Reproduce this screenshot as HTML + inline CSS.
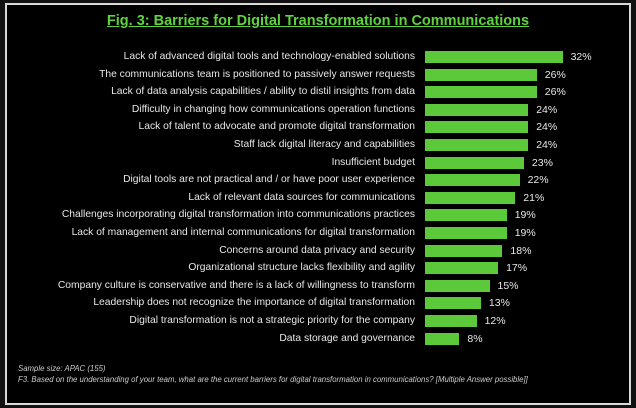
<!DOCTYPE html><html><head><style>
body{margin:0;width:636px;height:408px;background:#111;position:relative;overflow:hidden;font-family:"Liberation Sans",sans-serif}
#f{position:absolute;left:5px;top:3px;width:622px;height:398px;border:2px solid #d8d8d8;background:#000}
.t{position:absolute;left:0;width:636px;top:13px;text-align:center;color:#5fd33f;font-weight:bold;font-size:14.5px;text-decoration:underline}
.l{position:absolute;right:221px;color:#e8e8e8;font-size:10.3px;white-space:nowrap;line-height:12px}
.b{position:absolute;left:425px;height:12px;background:#5cc93a}
.v{position:absolute;color:#e8e8e8;font-size:10.5px;line-height:12px}
.n{position:absolute;left:18px;color:#ccc;font-size:7.8px;font-style:italic}
</style></head><body><div id="f"></div>
<div class="t">Fig. 3: Barriers for Digital Transformation in Communications</div>
<div id="c"></div>
<div class="n" style="top:364px">Sample size: APAC (155)</div>
<div class="n" style="top:375px">F3. Based on the understanding of your team, what are the current barriers for digital transformation in communications? [Multiple Answer possible]]</div>
<script>
var d=[["Lack of advanced digital tools and technology-enabled solutions",32],["The communications team is positioned to passively answer requests",26],["Lack of data analysis capabilities / ability to distil insights from data",26],["Difficulty in changing how communications operation functions",24],["Lack of talent to advocate and promote digital transformation",24],["Staff lack digital literacy and capabilities",24],["Insufficient budget",23],["Digital tools are not practical and / or have poor user experience",22],["Lack of relevant data sources for communications",21],["Challenges incorporating digital transformation into communications practices",19],["Lack of management and internal communications for digital transformation",19],["Concerns around data privacy and security",18],["Organizational structure lacks flexibility and agility",17],["Company culture is conservative and there is a lack of willingness to transform",15],["Leadership does not recognize the importance of digital transformation",13],["Digital transformation is not a strategic priority for the company",12],["Data storage and governance",8]];
var h="";d.forEach(function(r,i){var y=51+i*17.6,w=r[1]*4.3;
h+='<div class="l" style="top:'+y+'px">'+r[0]+'</div><div class="b" style="top:'+y+'px;width:'+w+'px"></div><div class="v" style="top:'+y+'px;left:'+(425+w+8)+'px">'+r[1]+'%</div>';});
document.getElementById("c").innerHTML=h;
</script></body></html>
